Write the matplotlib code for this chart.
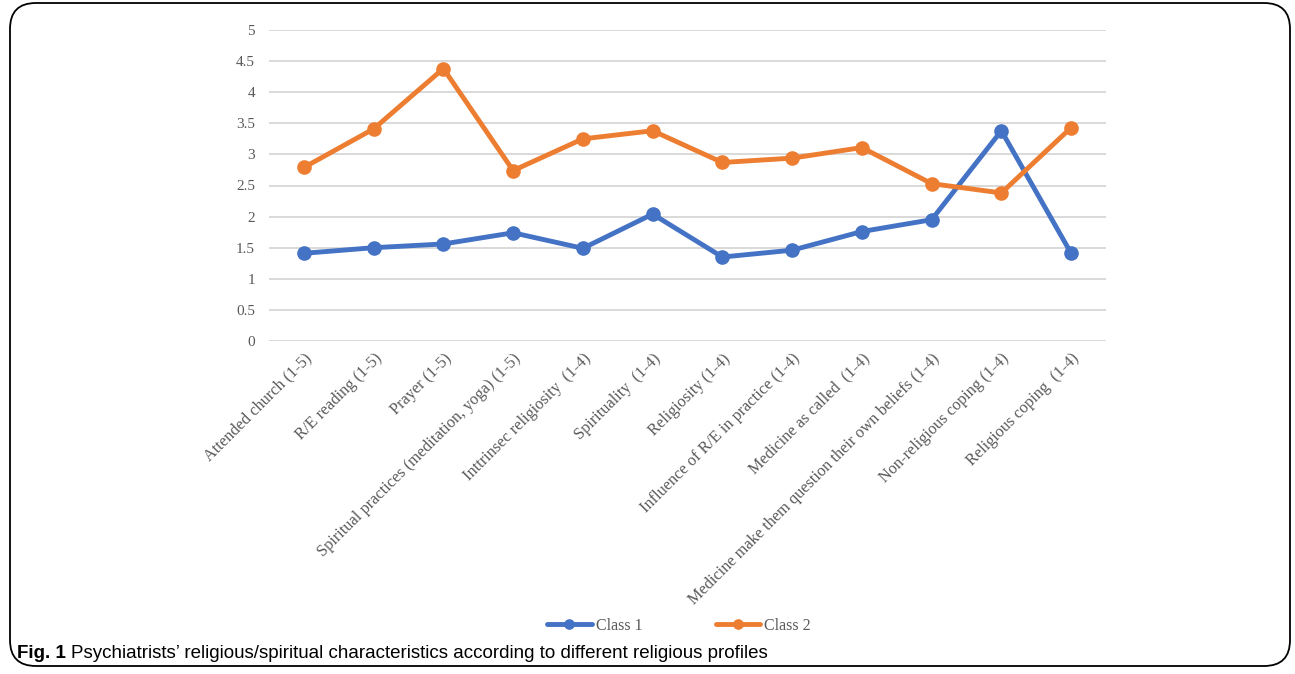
import matplotlib
matplotlib.use("Agg")
import matplotlib.pyplot as plt
from matplotlib.patches import FancyBboxPatch

categories = [
    "Attended church (1-5)",
    "R/E reading (1-5)",
    "Prayer (1-5)",
    "Spiritual practices (meditation, yoga) (1-5)",
    "Inttrinsec religiosity  (1-4)",
    "Spirituality  (1-4)",
    "Religiosity (1-4)",
    "Influence of R/E in practice (1-4)",
    "Medicine as called  (1-4)",
    "Medicine make them question their own beliefs (1-4)",
    "Non-religious coping (1-4)",
    "Religious coping  (1-4)",
]
class1 = [1.41, 1.50, 1.56, 1.74, 1.49, 2.04, 1.35, 1.46, 1.76, 1.95, 3.38, 1.41]
class2 = [2.79, 3.41, 4.38, 2.74, 3.25, 3.38, 2.87, 2.94, 3.11, 2.53, 2.38, 3.43]
yticks = [0, 0.5, 1, 1.5, 2, 2.5, 3, 3.5, 4, 4.5, 5]

W, H = 1295, 674
fig = plt.figure(figsize=(W / 100, H / 100), dpi=100)
ax = fig.add_axes([269 / W, 1 - 341 / H, (1106 - 269) / W, (341 - 30) / H])

serif = ["Liberation Serif", "DejaVu Serif"]
grey = "#595959"
x = list(range(len(categories)))

ax.plot(x, class1, color="#4472C4", lw=3.5, marker="o", ms=9.5, label="Class 1",
        solid_capstyle="round", zorder=3)
ax.plot(x, class2, color="#ED7D31", lw=3.5, marker="o", ms=9.5, label="Class 2",
        solid_capstyle="round", zorder=3)

ax.set_xlim(-0.5, len(categories) - 0.5)
ax.set_ylim(0, 5)
ax.set_yticks(yticks)
ax.set_yticklabels([f"{v:g}" for v in yticks], fontfamily=serif, fontsize=11, color=grey)
ax.set_xticks(x)
ax.set_xticklabels(categories, rotation=45, ha="right", va="top", rotation_mode="anchor",
                   fontfamily=serif, fontsize=11.7, color=grey)
ax.tick_params(axis="both", length=0)
ax.tick_params(axis="y", pad=10)
ax.tick_params(axis="x", pad=7)
ax.grid(axis="y", color="#D9D9D9", lw=1.4)
ax.set_axisbelow(True)
for s in ax.spines.values():
    s.set_visible(False)

leg = fig.legend(loc="center", bbox_to_anchor=(679 / W, 1 - 626 / H), ncol=2, frameon=False,
                 prop={"family": serif, "size": 11.5}, handlelength=2.8, columnspacing=4.6,
                 handletextpad=0.25, markerscale=0.7)
for t in leg.get_texts():
    t.set_color(grey)

box = FancyBboxPatch((10 / W, 8 / H), (1290 - 10) / W, (671 - 8) / H,
                     boxstyle="round,pad=0,rounding_size=0.02", transform=fig.transFigure,
                     fill=False, edgecolor="black", lw=1.3, mutation_aspect=W / H)
fig.patches.append(box)

cap = ["Liberation Sans Narrow", "Liberation Sans", "DejaVu Sans"]
t1 = fig.text(17 / W, 1 - 653 / H, "Fig. 1", fontfamily=cap, fontweight="bold",
              fontsize=13.5, va="center", ha="left")
fig.canvas.draw()
bb = t1.get_window_extent()
fig.text((bb.x1 + 5) / W, 1 - 653 / H, "Psychiatrists\u2019 religious/spiritual characteristics according to different religious profiles",
         fontfamily=cap, fontsize=13.5, va="center", ha="left")

fig.savefig("out.png", dpi=100)
